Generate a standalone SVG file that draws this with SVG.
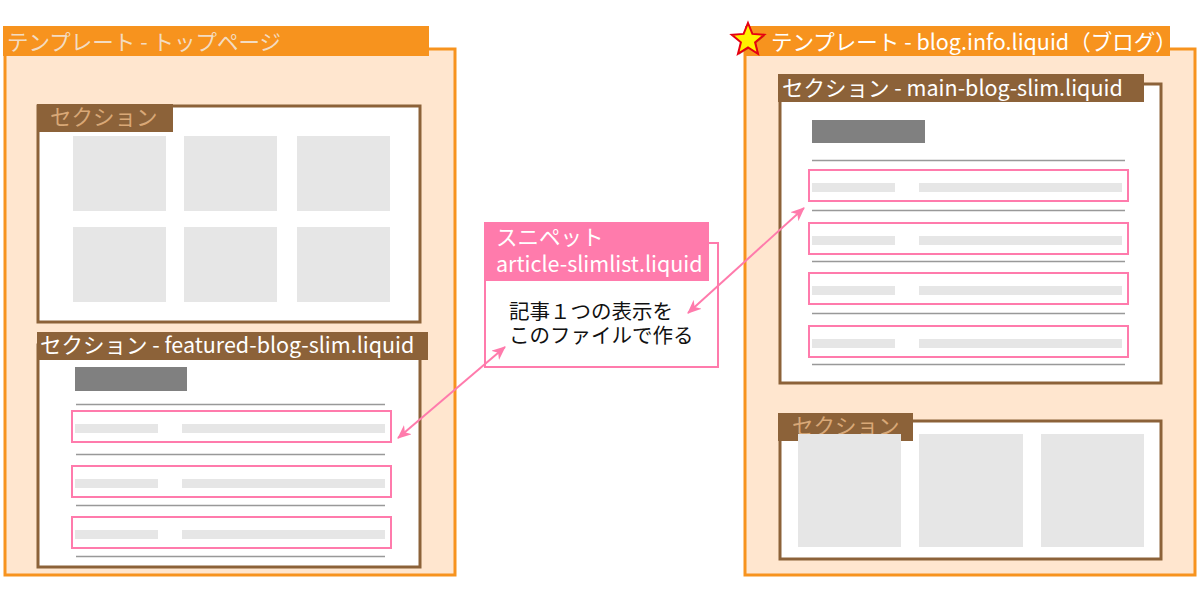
<svg xmlns="http://www.w3.org/2000/svg" width="1200" height="600" viewBox="0 0 1200 600">
<style>
text{font-family:"Noto Sans CJK JP","Noto Sans",sans-serif;font-size:21.5px}
.tpl{fill:#FFE6CF;stroke:#F7931E;stroke-width:3}
.tplLbl{fill:#F7931E}
.sec{fill:#fff;stroke:#8C6239;stroke-width:3}
.secLbl{fill:#8C6239}
.tan{fill:#D9A877}
.wht{fill:#fff}
.pale{fill:#F3DCC2}
.sq{fill:#E6E6E6}
.dark{fill:#808080}
.hl{stroke:#999;stroke-width:1.5}
.row{fill:#fff;stroke:#FF7BAC;stroke-width:2}
.pink{fill:#FF7BAC}
.body{fill:#111;font-size:20.5px}
.conn{stroke:#FF7BAC;stroke-width:2;fill:none}
</style>
<defs>
<marker id="ah" viewBox="0 0 14 12" markerWidth="14" markerHeight="12" refX="13" refY="6" orient="auto-start-reverse" markerUnits="userSpaceOnUse">
<path d="M0,0 L14,6 L0,12 L4,6 z" fill="#FF7BAC"/>
</marker>
<g id="listrow">
<rect x="0" y="0" width="319" height="31" class="row"/>
<rect x="3" y="13" width="83" height="9" class="sq"/>
<rect x="110" y="13" width="203" height="9" class="sq"/>
</g>
</defs>

<g id="tpl-top">
<rect x="5" y="49" width="450" height="526" class="tpl"/>
<rect x="3" y="26" width="426" height="30" class="tplLbl"/>
<text x="7" y="50" class="pale">テンプレート - トップページ</text>
</g>

<g id="sec-top-grid">
<rect x="38" y="106" width="382" height="216" class="sec"/>
<rect x="37" y="104" width="136" height="28" class="secLbl"/>
<text x="50" y="125" class="tan">セクション</text>
<rect x="73" y="136" width="93" height="75" class="sq"/>
<rect x="184" y="136" width="93" height="75" class="sq"/>
<rect x="297" y="136" width="93" height="75" class="sq"/>
<rect x="73" y="227" width="93" height="75" class="sq"/>
<rect x="184" y="227" width="93" height="75" class="sq"/>
<rect x="297" y="227" width="93" height="75" class="sq"/>
</g>

<g id="sec-featured">
<rect x="38" y="345" width="382" height="222" class="sec"/>
<rect x="37" y="332" width="391" height="28" class="secLbl"/>
<text x="40" y="353" class="wht">セクション - featured-blog-slim.liquid</text>
<rect x="75" y="367" width="112" height="24" class="dark"/>
<line x1="76" y1="404.5" x2="385" y2="404.5" class="hl"/>
<use href="#listrow" x="72" y="411"/>
<line x1="76" y1="454.5" x2="385" y2="454.5" class="hl"/>
<use href="#listrow" x="72" y="466"/>
<line x1="76" y1="505.5" x2="385" y2="505.5" class="hl"/>
<use href="#listrow" x="72" y="517"/>
<line x1="76" y1="556.5" x2="385" y2="556.5" class="hl"/>
</g>

<g id="snippet">
<rect x="485" y="243" width="233" height="124" fill="#fff" stroke="#FF7BAC" stroke-width="2"/>
<rect x="484" y="222" width="225" height="59" class="pink"/>
<text x="496" y="245" class="wht">スニペット</text>
<text x="496" y="272" class="wht">article-slimlist.liquid</text>
<text x="509" y="319" class="body">記事１つの表示を</text>
<text x="509" y="343" class="body">このファイルで作る</text>
</g>

<g id="tpl-blog">
<rect x="745" y="49" width="450" height="526" class="tpl"/>
<rect x="745" y="26" width="425" height="30" class="tplLbl"/>
<polygon points="749,24 753.4,34.9 765.2,35.75 756.1,43.3 759,54.75 749,48.5 739,54.75 741.9,43.3 732.8,35.75 744.6,34.9" fill="#7a2a00" opacity="0.5"/>
<polygon points="748,23 752.4,33.9 764.2,34.75 755.1,42.3 758,53.75 748,47.5 738,53.75 740.9,42.3 731.8,34.75 743.6,33.9" fill="#FFF200" stroke="#E60012" stroke-width="2"/>
<text x="771" y="50" class="wht">テンプレート - blog.info.liquid（ブログ）</text>
</g>

<g id="sec-main-blog">
<rect x="780" y="84" width="381" height="299" class="sec"/>
<rect x="778" y="74" width="366" height="28" class="secLbl"/>
<text x="782" y="96" class="wht">セクション - main-blog-slim.liquid</text>
<rect x="812" y="120" width="113" height="23" class="dark"/>
<line x1="812" y1="160.5" x2="1125" y2="160.5" class="hl"/>
<use href="#listrow" x="809" y="170"/>
<line x1="812" y1="210.5" x2="1125" y2="210.5" class="hl"/>
<use href="#listrow" x="809" y="223"/>
<line x1="812" y1="261.5" x2="1125" y2="261.5" class="hl"/>
<use href="#listrow" x="809" y="273"/>
<line x1="812" y1="313.5" x2="1125" y2="313.5" class="hl"/>
<use href="#listrow" x="809" y="326"/>
<line x1="812" y1="364.5" x2="1125" y2="364.5" class="hl"/>
</g>

<g id="sec-blog-grid">
<rect x="780" y="421" width="381" height="138" class="sec"/>
<rect x="778" y="413" width="135" height="28" class="secLbl"/>
<text x="792" y="434" class="tan">セクション</text>
<rect x="798" y="434" width="103" height="113" class="sq"/>
<rect x="919" y="434" width="104" height="113" class="sq"/>
<rect x="1041" y="434" width="103" height="113" class="sq"/>
</g>

<g id="connectors">
<line x1="398" y1="438" x2="505" y2="347" class="conn" marker-start="url(#ah)" marker-end="url(#ah)"/>
<line x1="688" y1="313" x2="804" y2="208" class="conn" marker-start="url(#ah)" marker-end="url(#ah)"/>
</g>
</svg>
